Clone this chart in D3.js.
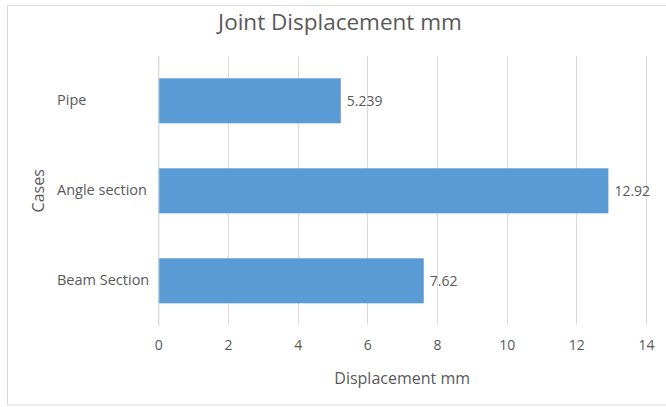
<!DOCTYPE html>
<html>
<head>
<meta charset="utf-8">
<script src="https://cdn.jsdelivr.net/npm/d3@7"></script>
<style>
  html, body { margin: 0; padding: 0; background: #fff; }
  svg { display: block; }
  text { font-family: "Open Sans", "Liberation Sans", sans-serif; fill: #595959; }
</style>
</head>
<body>
<svg id="chart" width="666" height="407"></svg>
<script>
// Joint displacement per section type
const categories = ["Pipe", "Angle section", "Beam Section"];
const displacement = [5.239, 12.92, 7.62];
const valueLabels = ["5.239", "12.92", "7.62"];
const xTicks = [0, 2, 4, 6, 8, 10, 12, 14];

const W = 666, H = 407;
const plot = { left: 158.3, right: 646, top: 55.8, bottom: 325.8 };
const FONT = '"Open Sans", "Liberation Sans", sans-serif';

const svg = d3.select("#chart");

// outer chart frame
svg.append("rect")
  .attr("x", 7.5).attr("y", 5.5)
  .attr("width", 680).attr("height", 399.5)
  .attr("fill", "#fff").attr("stroke", "#d9d9d9").attr("stroke-width", 1);

const x = d3.scaleLinear().domain([0, 14]).range([plot.left, plot.right]);
const y = d3.scaleBand().domain(categories).range([plot.top, plot.bottom])
  .paddingInner(0.5).paddingOuter(0.25);

// vertical gridlines
svg.append("g").selectAll("line").data(xTicks).join("line")
  .attr("x1", d => Math.round(x(d)) + 0.5).attr("x2", d => Math.round(x(d)) + 0.5)
  .attr("y1", plot.top).attr("y2", plot.bottom - 1)
  .attr("stroke", "#d9d9d9").attr("stroke-width", 1);

// bars
svg.append("g").selectAll("rect").data(categories).join("rect")
  .attr("x", x(0))
  .attr("y", d => y(d))
  .attr("width", (d, i) => x(displacement[i]) - x(0))
  .attr("height", y.bandwidth())
  .attr("fill", "#5b9bd5");

// value labels
svg.append("g").selectAll("text").data(categories).join("text")
  .attr("x", (d, i) => x(displacement[i]) + 6)
  .attr("y", d => y(d) + y.bandwidth() / 2)
  .attr("dy", "0.35em")
  .attr("font-size", 14)
  .attr("fill", "#404040")
  .text((d, i) => valueLabels[i]);

// x axis tick labels
const xAxis = d3.axisBottom(x).tickValues(xTicks).tickSize(0).tickPadding(0);
const gx = svg.append("g").attr("transform", `translate(0,${plot.bottom})`).call(xAxis);
gx.select(".domain").remove();
gx.selectAll("text")
  .attr("y", 19)
  .attr("dy", "0.35em")
  .attr("font-size", 14)
  .style("font-family", FONT)
  .style("fill", "#595959");

// y axis category labels (left aligned)
const yAxis = d3.axisLeft(y).tickSize(0);
const gy = svg.append("g").attr("transform", `translate(${plot.left},0)`).call(yAxis);
gy.select(".domain")
  .attr("stroke", "#d9d9d9");
gy.selectAll("text")
  .attr("x", 57 - plot.left)
  .attr("text-anchor", "start")
  .attr("font-size", 14.5)
  .style("font-family", FONT)
  .style("fill", "#595959");

// title
svg.append("text")
  .attr("x", 340).attr("y", 22).attr("dy", "0.35em")
  .attr("text-anchor", "middle")
  .attr("font-size", 22.5)
  .text("Joint Displacement mm");

// x axis title
svg.append("text")
  .attr("x", (plot.left + plot.right) / 2).attr("y", 378).attr("dy", "0.35em")
  .attr("text-anchor", "middle")
  .attr("font-size", 16)
  .text("Displacement mm");

// y axis title
svg.append("text")
  .attr("transform", `translate(38,${(plot.top + plot.bottom) / 2}) rotate(-90)`)
  .attr("dy", "0.35em")
  .attr("text-anchor", "middle")
  .attr("font-size", 16)
  .text("Cases");
</script>
</body>
</html>
